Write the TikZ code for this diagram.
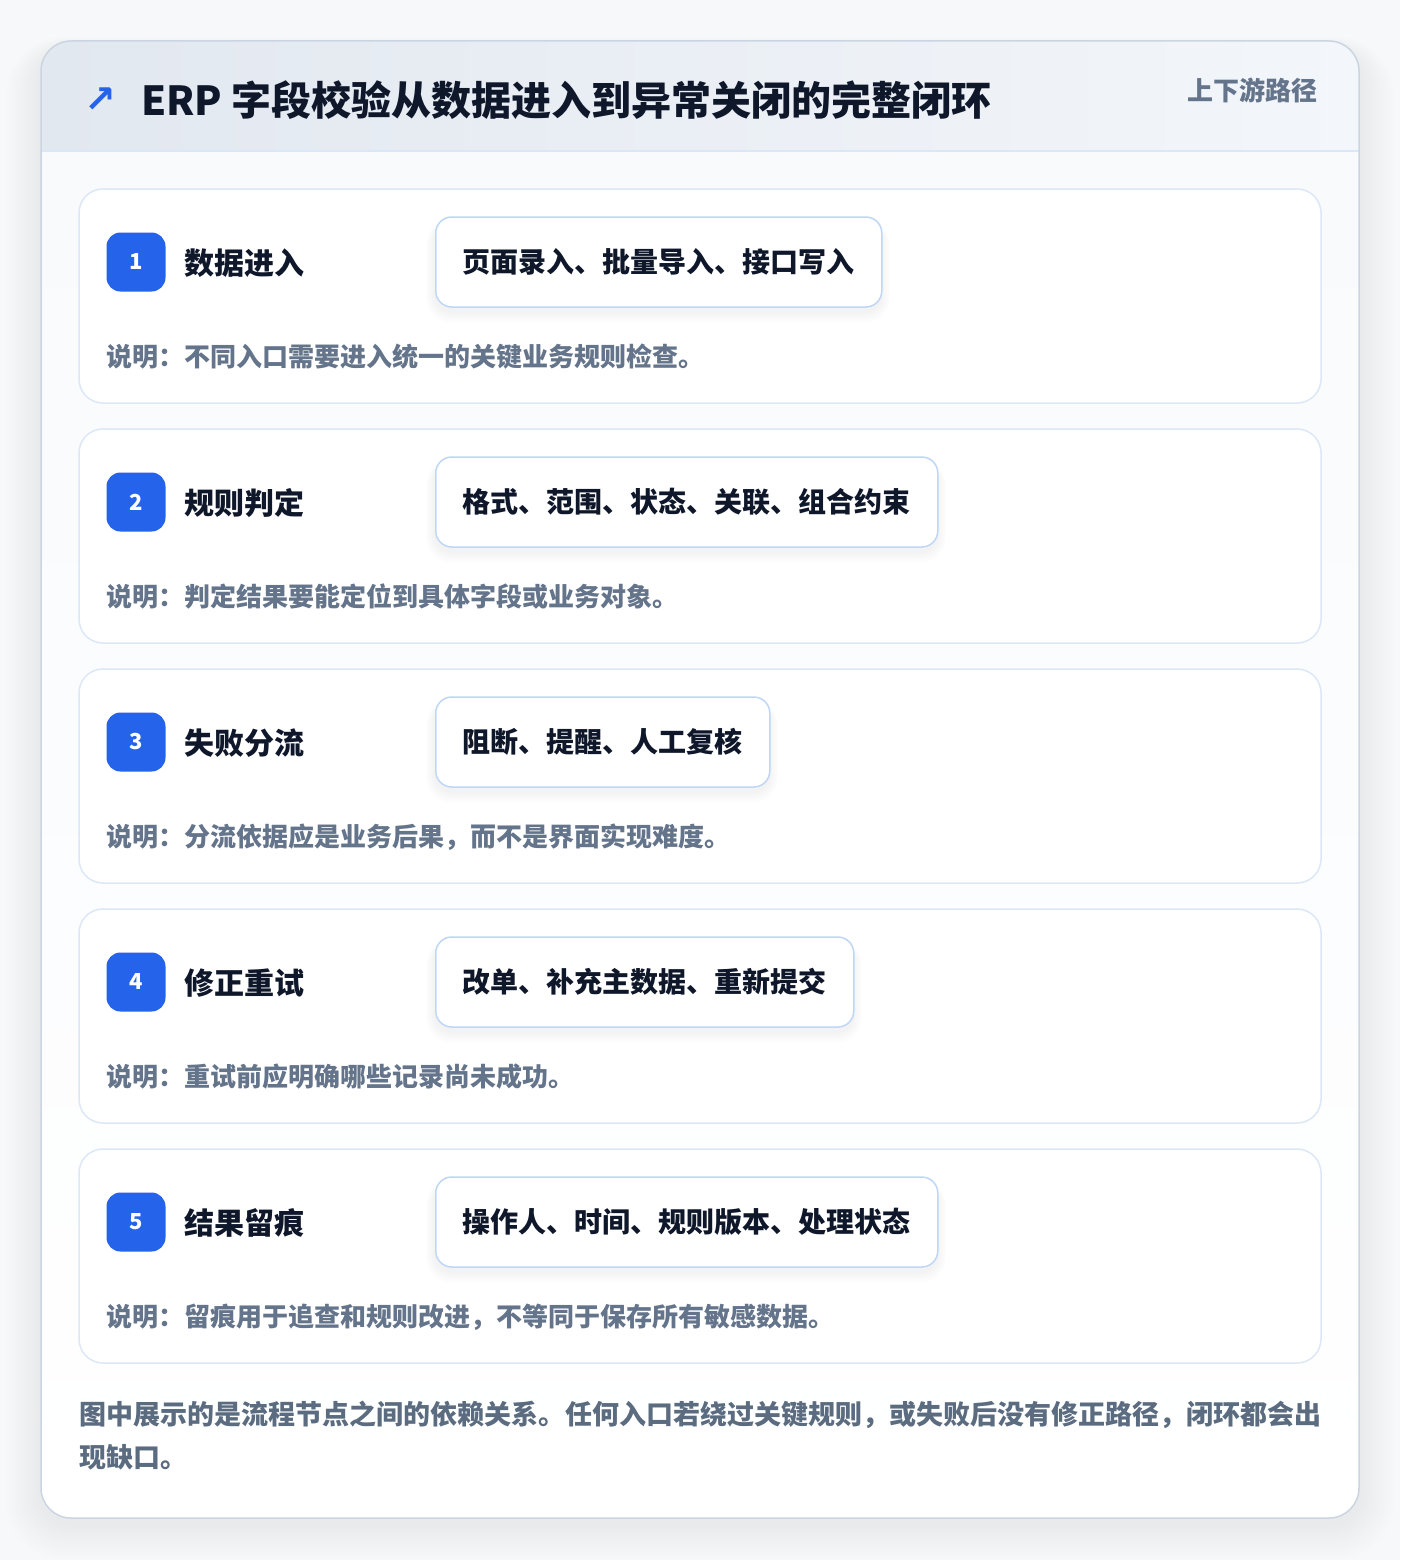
\documentclass[tikz,border=0pt]{standalone}
\usepackage{fontspec}
\setmainfont{Noto Sans CJK SC}
\newfontfamily\arrowfont{DejaVu Sans}
\usetikzlibrary{calc}
\definecolor{pagebg}{HTML}{F7F8FA}
\definecolor{cardborder}{HTML}{CBD5E1}
\definecolor{hdrA}{HTML}{E2E8F0}
\definecolor{hdrB}{HTML}{F3F6FA}
\definecolor{hdrline}{HTML}{DBE7F7}
\definecolor{bodybg}{HTML}{F8FAFC}
\definecolor{stepborder}{HTML}{DCE7F7}
\definecolor{pillborder}{HTML}{BFD6F6}
\definecolor{accent}{HTML}{2563EB}
\definecolor{ink}{HTML}{0F172A}
\definecolor{muted}{HTML}{64748B}
\definecolor{footink}{HTML}{5B6B80}
\tikzset{
  stepcard/.style={draw=stepborder, line width=1.5pt, fill=white, rounded corners=24pt},
  badgebox/.style={fill=accent, rounded corners=14pt, minimum width=59pt, minimum height=59pt, inner sep=0pt, text=white, font=\bfseries\fontsize{22}{22}\selectfont},
  steptitle/.style={anchor=west, inner sep=0pt, text=ink, font=\bfseries\fontsize{30}{30}\selectfont},
  pillbox/.style={anchor=west, draw=pillborder, line width=1.5pt, fill=white, rounded corners=16pt, inner xsep=27pt, inner ysep=0pt, minimum height=90pt, text=ink, font=\bfseries\fontsize{28}{28}\selectfont},
  desctext/.style={anchor=west, inner sep=0pt, text=muted, font=\bfseries\fontsize{26}{26}\selectfont},
}
\begin{document}
\begin{tikzpicture}[x=1pt,y=-1pt]
\useasboundingbox (0,0) rectangle (1400,1560);
\fill[pagebg] (0,0) rectangle (1400,1560);
% outer shadow
\foreach \k in {1,...,14}{
  \fill[black, opacity=0.005, rounded corners=30pt+\k*2pt] (41-\k*2.5,41-\k*1.0+10) rectangle (1359+\k*2.5,1518+\k*2.5+6);
}
% outer card
\begin{scope}
  \clip[rounded corners=30pt] (41,41) rectangle (1359,1518);
  \shade[top color=bodybg, bottom color=white] (41,151) rectangle (1359,1518);
  \shade[left color=hdrA, right color=hdrB] (41,41) rectangle (1359,151);
\end{scope}
\draw[hdrline, line width=1.5pt] (41,151) -- (1359,151);
\draw[cardborder, line width=1.5pt, rounded corners=30pt] (41,41) rectangle (1359,1518);
% header
\node[anchor=west, inner sep=0pt, text=accent, font=\arrowfont\bfseries\fontsize{38}{38}\selectfont] (icon) at (84,100) {↗};
\node[anchor=west, inner sep=0pt, text=ink, font=\bfseries\fontsize{40}{40}\selectfont] (title) at (141,100) {ERP 字段校验从数据进入到异常关闭的完整闭环};
\node[anchor=east, inner sep=0pt, text=muted, font=\bfseries\fontsize{26}{26}\selectfont] (tag) at (1318,90) {上下游路径};
% steps
\foreach \i/\T/\n/\ttl/\pill/\desc in {
  1/189/14/数据进入/页面录入、批量导入、接口写入/说明：不同入口需要进入统一的关键业务规则检查。,
  2/429/16/规则判定/格式、范围、状态、关联、组合约束/说明：判定结果要能定位到具体字段或业务对象。,
  3/669/10/失败分流/阻断、提醒、人工复核/说明：分流依据应是业务后果，而不是界面实现难度。,
  4/909/13/修正重试/改单、补充主数据、重新提交/说明：重试前应明确哪些记录尚未成功。,
  5/1149/16/结果留痕/操作人、时间、规则版本、处理状态/说明：留痕用于追查和规则改进，不等同于保存所有敏感数据。}{
  \draw[stepcard] (79,\T) rectangle (1321,\T+214);
  \node[badgebox] (badge\i) at (136,\T+73) {\i};
  \node[steptitle] (title\i) at (184,\T+74) {\ttl};
  \foreach \k in {1,...,6}{
    \fill[black, opacity=0.007, rounded corners=16pt+\k*1.5pt] (435-\k*1.5,\T+28-\k*0.5+6) rectangle (435+27*2+\k*1.5+28*\n,\T+118+\k*2+4);
  }
  \node[pillbox] (pill\i) at (435,\T+73) {\pill};
  \node[desctext] (desc\i) at (106,\T+168) {\desc};
}
% footer
\node[anchor=west, inner sep=0pt, text=footink, font=\bfseries\fontsize{27}{27}\selectfont] (foot1) at (79,1415) {图中展示的是流程节点之间的依赖关系。任何入口若绕过关键规则，或失败后没有修正路径，闭环都会出};
\node[anchor=west, inner sep=0pt, text=footink, font=\bfseries\fontsize{27}{27}\selectfont] (foot2) at (79,1457) {现缺口。};
\end{tikzpicture}
\end{document}
